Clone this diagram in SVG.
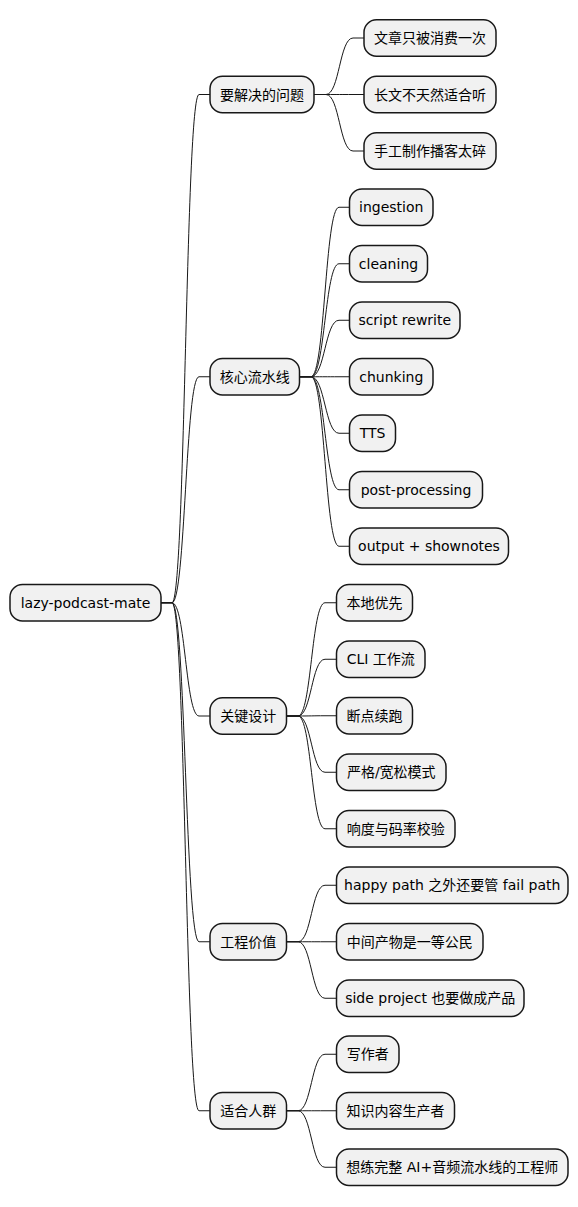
<svg xmlns="http://www.w3.org/2000/svg" width="578" height="1207" viewBox="0 0 578 1207">
<style>
.n rect{fill:#F1F1F1;stroke:#181818;stroke-width:1.5}
.n text{font-family:"DejaVu Sans","Noto Sans CJK SC",sans-serif;font-size:14px;fill:#000;text-anchor:middle}
.c path{fill:none;stroke:#181818;stroke-width:1}
</style>
<rect width="578" height="1207" fill="#FFFFFF"/>
<g id="connectors" class="c">
<path d="M161,602.75 L172,602.75 C185.5,602.75 185.5,94.5 199,94.5 L210,94.5"/>
<path d="M161,602.75 L172,602.75 C185.5,602.75 185.5,376.75 199,376.75 L210,376.75"/>
<path d="M161,602.75 L172,602.75 C185.5,602.75 185.5,716 199,716 L210,716"/>
<path d="M161,602.75 L172,602.75 C185.5,602.75 185.5,941.75 199,941.75 L210,941.75"/>
<path d="M161,602.75 L172,602.75 C185.5,602.75 185.5,1110.75 199,1110.75 L210,1110.75"/>
<path d="M314,94.5 L326,94.5 C339.5,94.5 339.5,38 353,38 L364,38"/>
<path d="M314,94.5 L326,94.5 C339.5,94.5 339.5,94.5 353,94.5 L364,94.5"/>
<path d="M314,94.5 L326,94.5 C339.5,94.5 339.5,151 353,151 L364,151"/>
<path d="M299.5,376.75 L311,376.75 C325,376.75 325,207.25 339,207.25 L349.5,207.25"/>
<path d="M299.5,376.75 L311,376.75 C325,376.75 325,263.75 339,263.75 L349.5,263.75"/>
<path d="M299.5,376.75 L311,376.75 C325,376.75 325,320.25 339,320.25 L349.5,320.25"/>
<path d="M299.5,376.75 L311,376.75 C325,376.75 325,376.75 339,376.75 L349.5,376.75"/>
<path d="M299.5,376.75 L311,376.75 C325,376.75 325,433.25 339,433.25 L349.5,433.25"/>
<path d="M299.5,376.75 L311,376.75 C325,376.75 325,489.75 339,489.75 L349.5,489.75"/>
<path d="M299.5,376.75 L311,376.75 C325,376.75 325,546.25 339,546.25 L349.5,546.25"/>
<path d="M286.5,716 L298,716 C311.5,716 311.5,602.75 325,602.75 L336.5,602.75"/>
<path d="M286.5,716 L298,716 C311.5,716 311.5,659.25 325,659.25 L336.5,659.25"/>
<path d="M286.5,716 L298,716 C311.5,716 311.5,715.75 325,715.75 L336.5,715.75"/>
<path d="M286.5,716 L298,716 C311.5,716 311.5,772.25 325,772.25 L336.5,772.25"/>
<path d="M286.5,716 L298,716 C311.5,716 311.5,828.75 325,828.75 L336.5,828.75"/>
<path d="M286.5,941.75 L298,941.75 C311.5,941.75 311.5,885.25 325,885.25 L336.5,885.25"/>
<path d="M286.5,941.75 L298,941.75 C311.5,941.75 311.5,941.75 325,941.75 L336.5,941.75"/>
<path d="M286.5,941.75 L298,941.75 C311.5,941.75 311.5,998.25 325,998.25 L336.5,998.25"/>
<path d="M286.5,1110.75 L298,1110.75 C311.5,1110.75 311.5,1054.25 325,1054.25 L336.5,1054.25"/>
<path d="M286.5,1110.75 L298,1110.75 C311.5,1110.75 311.5,1110.75 325,1110.75 L336.5,1110.75"/>
<path d="M286.5,1110.75 L298,1110.75 C311.5,1110.75 311.5,1167.25 325,1167.25 L336.5,1167.25"/>
</g>
<g id="root" class="n"><rect x="10" y="584.5" width="151" height="36.5" rx="12.5"/><text x="85.5" y="607.75">lazy-podcast-mate</text></g>
<g id="problems" class="n"><rect x="210" y="76.25" width="104" height="36.5" rx="12.5"/><text x="262" y="99.5">要解决的问题</text></g>
<g id="p1" class="n"><rect x="364" y="19.75" width="132" height="36.5" rx="12.5"/><text x="430" y="43">文章只被消费一次</text></g>
<g id="p2" class="n"><rect x="364" y="76.25" width="132" height="36.5" rx="12.5"/><text x="430" y="99.5">长文不天然适合听</text></g>
<g id="p3" class="n"><rect x="364" y="132.75" width="132" height="36.5" rx="12.5"/><text x="430" y="156">手工制作播客太碎</text></g>
<g id="pipeline" class="n"><rect x="210" y="358.5" width="89.5" height="36.5" rx="12.5"/><text x="254.75" y="381.75">核心流水线</text></g>
<g id="s1" class="n"><rect x="349.5" y="189" width="83.5" height="36.5" rx="12.5"/><text x="391.25" y="212.25">ingestion</text></g>
<g id="s2" class="n"><rect x="349.5" y="245.5" width="78" height="36.5" rx="12.5"/><text x="388.5" y="268.75">cleaning</text></g>
<g id="s3" class="n"><rect x="349.5" y="302" width="110.5" height="36.5" rx="12.5"/><text x="404.75" y="325.25">script rewrite</text></g>
<g id="s4" class="n"><rect x="349.5" y="358.5" width="83.5" height="36.5" rx="12.5"/><text x="391.25" y="381.75">chunking</text></g>
<g id="s5" class="n"><rect x="349.5" y="415" width="46" height="36.5" rx="12.5"/><text x="372.5" y="438.25">TTS</text></g>
<g id="s6" class="n"><rect x="349.5" y="471.5" width="133" height="36.5" rx="12.5"/><text x="416" y="494.75">post-processing</text></g>
<g id="s7" class="n"><rect x="349.5" y="528" width="159" height="36.5" rx="12.5"/><text x="429" y="551.25">output + shownotes</text></g>
<g id="design" class="n"><rect x="210" y="697.75" width="76.5" height="36.5" rx="12.5"/><text x="248.25" y="721">关键设计</text></g>
<g id="d1" class="n"><rect x="336.5" y="584.5" width="76" height="36.5" rx="12.5"/><text x="374.5" y="607.75">本地优先</text></g>
<g id="d2" class="n"><rect x="336.5" y="641" width="88.5" height="36.5" rx="12.5"/><text x="380.75" y="664.25">CLI 工作流</text></g>
<g id="d3" class="n"><rect x="336.5" y="697.5" width="76" height="36.5" rx="12.5"/><text x="374.5" y="720.75">断点续跑</text></g>
<g id="d4" class="n"><rect x="336.5" y="754" width="109.5" height="36.5" rx="12.5"/><text x="391.25" y="777.25">严格/宽松模式</text></g>
<g id="d5" class="n"><rect x="336.5" y="810.5" width="118.5" height="36.5" rx="12.5"/><text x="395.75" y="833.75">响度与码率校验</text></g>
<g id="value" class="n"><rect x="210" y="923.5" width="76.5" height="36.5" rx="12.5"/><text x="248.25" y="946.75">工程价值</text></g>
<g id="v1" class="n"><rect x="336.5" y="867" width="231.5" height="36.5" rx="12.5"/><text x="452.25" y="890.25">happy path 之外还要管 fail path</text></g>
<g id="v2" class="n"><rect x="336.5" y="923.5" width="146.5" height="36.5" rx="12.5"/><text x="409.75" y="946.75">中间产物是一等公民</text></g>
<g id="v3" class="n"><rect x="336.5" y="980" width="187.5" height="36.5" rx="12.5"/><text x="430.25" y="1003.25">side project 也要做成产品</text></g>
<g id="audience" class="n"><rect x="210" y="1092.5" width="76.5" height="36.5" rx="12.5"/><text x="248.25" y="1115.75">适合人群</text></g>
<g id="a1" class="n"><rect x="336.5" y="1036" width="62.5" height="36.5" rx="12.5"/><text x="367.75" y="1059.25">写作者</text></g>
<g id="a2" class="n"><rect x="336.5" y="1092.5" width="118" height="36.5" rx="12.5"/><text x="395.5" y="1115.75">知识内容生产者</text></g>
<g id="a3" class="n"><rect x="336.5" y="1149" width="231.5" height="36.5" rx="12.5"/><text x="452.25" y="1172.25">想练完整 AI+音频流水线的工程师</text></g>
</svg>
